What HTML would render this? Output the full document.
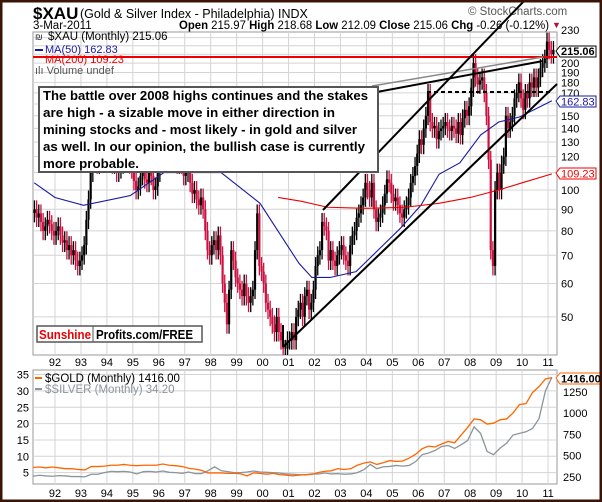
<!DOCTYPE html>
<html><head><meta charset="utf-8"><style>
body{margin:0;padding:0;background:#fff}
svg{display:block;font-family:"Liberation Sans",sans-serif}
</style></head><body>
<svg id="chart" width="602" height="502" viewBox="0 0 602 502">
<rect x="0" y="0" width="602" height="502" fill="#fff"/>
<g id="grid"></g>
<g>
<text x="33" y="19" font-size="17" font-weight="bold">$XAU</text>
<text x="80" y="18" font-size="12.5">(Gold &amp; Silver Index - Philadelphia) INDX</text>
<text x="33" y="29" font-size="11.5">3-Mar-2011</text>
<text x="179" y="29" font-size="11.5" textLength="370" lengthAdjust="spacingAndGlyphs"><tspan font-weight="bold">Open</tspan> 215.97 <tspan font-weight="bold">High</tspan> 218.68 <tspan font-weight="bold">Low</tspan> 212.09 <tspan font-weight="bold">Close</tspan> 215.06 <tspan font-weight="bold">Chg</tspan> -0.26 (-0.12%)</text>
<text x="552" y="28" font-size="9" fill="#b0103a">▼</text>
<text x="468" y="15" font-size="11.5" fill="#555">© StockCharts.com</text>
</g>
<g id="main"></g>
<g id="overlay"></g>
<g id="lower"></g>
<rect x="1" y="1" width="600" height="500" fill="none" stroke="#3a1406" stroke-width="3"/>
</svg>
<script>
// Monthly $XAU closes, Mar 1991 .. Mar 2011
const xauClose=[90,86,88,84,80,82,85,83,80,78,
80,82,78,75,76,72,74,70,72,68,66,68,
70,74,85,95,110,125,120,115,118,125,122,130,
125,120,115,118,110,112,115,120,118,125,115,112,
105,100,102,108,110,106,104,112,108,100,102,110,
125,140,135,130,128,122,120,118,115,120,115,108,
110,112,104,98,100,95,92,96,90,80,72,70,
74,76,72,78,70,60,54,48,58,72,68,62,
60,58,56,60,56,54,56,58,72,88,66,64,
60,54,52,50,48,46,50,46,44,42,42,44,
44,46,44,50,52,54,50,56,58,52,54,58,
66,70,72,84,82,80,68,72,68,66,70,72,
74,70,68,66,74,78,80,86,88,92,96,104,
100,96,104,90,84,86,88,92,98,106,104,98,
94,96,92,88,86,90,92,96,104,108,114,122,
132,128,140,150,170,145,140,142,132,138,140,142,
145,140,138,142,140,136,145,135,148,155,150,158,
175,200,185,178,182,185,170,150,118,72,66,100,
110,100,115,120,150,140,145,150,165,170,180,165,
155,170,165,180,175,185,175,185,195,200,205,225,
215,210,215.06];
const ma50Years=[1991.2,1992,1993.1,1994.9,1996.2,1998.4,1999.9,2001.4,2001.9,2002.6,2003.6,2005.3,2006.1,2006.8,2007.6,2008.4,2009.1,2009.9,2011.15];
const ma50Vals=[104,96,92,97,110,110,93,67,62,62,64,81,92,109,116,135,145,149,162.83];
const ma200Years=[2000.6,2001.5,2002.5,2004,2005.5,2006.8,2008,2009.1,2010,2011.15];
const ma200Vals=[96,94,91,90.5,91,93,96,100,104,109.23];
const yTicks=[50,60,70,80,90,100,120,130,140,150,170,180,190,200,230];
const yGrid=[50,60,70,80,90,100,110,120,130,140,150,160,170,180,190,200,210,220,230];
const yearLabels=["92","93","94","95","96","97","98","99","00","01","02","03","04","05","06","07","08","09","10","11"];
const goldVals=[360,365,355,365,355,345,345,335,330,370,370,375,385,385,395,385,380,385,385,385,400,385,380,370,350,340,325,295,295,295,290,290,285,260,295,290,280,290,275,270,260,270,275,278,300,315,320,345,335,345,385,410,425,395,415,440,430,435,470,515,580,610,600,635,665,650,740,830,930,920,870,880,920,930,1000,1100,1110,1240,1310,1400,1416];
const silverVals=[3.9,4.2,4.0,3.9,4.1,4.0,3.8,3.8,3.7,4.5,4.5,5.0,5.4,5.3,5.4,5.2,4.6,5.3,5.4,5.2,5.5,5.1,5.0,4.8,5.2,4.7,4.7,5.6,6.8,5.6,5.3,5.0,5.0,5.2,5.5,5.2,5.1,5.0,4.9,4.6,4.5,4.4,4.3,4.6,4.6,4.9,4.6,4.7,4.5,4.6,5.0,5.9,7.5,6.2,6.8,6.9,7.2,7.0,7.2,8.4,10.5,11.0,11.8,13.0,13.3,12.4,13.5,14.8,19.0,17.0,11.5,10.5,12.5,14.0,16.5,17.0,17.5,18.5,21.5,30.0,34.2];
const silverTicks=[5,10,15,20,25,30,35];
const goldTicks=[250,500,750,1000,1250];

const NS="http://www.w3.org/2000/svg";
function mk(tag,attrs,parent){const e=document.createElementNS(NS,tag);for(const k in attrs)e.setAttribute(k,attrs[k]);parent.appendChild(e);return e;}
const PL=33,PR=557,PT=32,PB=355,LT=370,LB=484;
const xOf=t=>55+(t-1992)*25.95;
const yOf=v=>190-183*Math.log(v/100);
const ySil=v=>489-3.27*v;
const yGold=v=>498-0.085*v;
const grid=document.getElementById('grid'),main=document.getElementById('main'),low=document.getElementById('lower');

let r=mk('rect',{x:PL,y:PT,width:PR-PL,height:PB-PT,fill:'none',stroke:'#999'},grid);

r=mk('rect',{x:PL,y:LT,width:PR-PL,height:LB-LT,fill:'none',stroke:'#999'},grid);

yearLabels.forEach((lab,i)=>{const x=xOf(1992+i);
 let l=mk('line',{x1:x,x2:x,y1:PT,y2:PB,stroke:'#d4d4d4'},grid);
 
 l=mk('line',{x1:x,x2:x,y1:LT,y2:LB,stroke:'#d4d4d4'},grid);
 
 let t=mk('text',{x:x,y:366,'font-size':11,'text-anchor':'middle'},grid);t.textContent=lab;
 
 t=mk('text',{x:x,y:497,'font-size':11,'text-anchor':'middle'},grid);t.textContent=lab;
 
});
yGrid.forEach(v=>{const y=yOf(v);let l=mk('line',{x1:PL,x2:PR,y1:y,y2:y,stroke:'#d4d4d4'},grid);
 });
yTicks.forEach(v=>{let t=mk('text',{x:561,y:(v===230?30:yOf(v))+4,'font-size':11},grid);t.textContent=v;
 });

const clip=mk('clipPath',{id:'pc'},main);mk('rect',{x:PL,y:PT,width:PR-PL,height:PB-PT},clip);
const cg=mk('g',{'clip-path':'url(#pc)'},main);
xauClose.forEach((c,i)=>{const o=i?xauClose[i-1]:c*0.98;const t=1991+(2+i)/12+1/24;const x=xOf(t);
 const hi=Math.max(o,c)*1.05,lo=Math.min(o,c)*0.95;const col=c>=o?'#000':'#cc1040';
 const b=mk('line',{x1:x,x2:x,y1:yOf(hi),y2:yOf(lo),stroke:col,'stroke-width':1.3},cg);
 
 const bd=mk('line',{x1:x,x2:x,y1:yOf(Math.max(o,c)),y2:yOf(Math.min(o,c)),stroke:col,'stroke-width':2.2},cg);
 });
let p=mk('polyline',{points:ma50Years.map((t,i)=>xOf(t)+','+yOf(ma50Vals[i])).join(' '),fill:'none',stroke:'#1a1aa0','stroke-width':1.1},cg);

p=mk('polyline',{points:ma200Years.map((t,i)=>xOf(t)+','+yOf(ma200Vals[i])).join(' '),fill:'none',stroke:'#e00','stroke-width':1.1},cg);


silverTicks.forEach(v=>{const y=ySil(v);let l=mk('line',{x1:PL,x2:PR,y1:y,y2:y,stroke:'#d4d4d4'},low);
 
 let t=mk('text',{x:29,y:y+4,'font-size':11,'text-anchor':'end'},low);t.textContent=v;
 });
goldTicks.forEach(v=>{let t=mk('text',{x:563,y:yGold(v)+4,'font-size':11},low);t.textContent=v;
 });
p=mk('polyline',{points:silverVals.map((v,i)=>xOf(1991.15+i*0.25)+','+ySil(v)).join(' '),fill:'none',stroke:'#8a959c','stroke-width':1.3},low);

p=mk('polyline',{points:goldVals.map((v,i)=>xOf(1991.15+i*0.25)+','+yGold(v)).join(' '),fill:'none',stroke:'#ff6600','stroke-width':1.3},low);

</script>
<script>
(function(){const ov=document.getElementById('overlay');const low=document.getElementById('lower');
ov.innerHTML=`
<line x1="33" y1="57" x2="557" y2="57" stroke="#e00" stroke-width="2"/>
<line x1="427" y1="92" x2="553" y2="92" stroke="#000" stroke-width="2" stroke-dasharray="4,3"/>
<line x1="372" y1="86" x2="543" y2="57" stroke="#888" stroke-width="1.5"/>
<line x1="377" y1="92" x2="543" y2="61" stroke="#000" stroke-width="2"/>
<line x1="283" y1="347" x2="557" y2="84" stroke="#000" stroke-width="2"/>
<line x1="283" y1="347" x2="283" y2="325" stroke="#000" stroke-width="2"/>
<line x1="323" y1="210" x2="525" y2="0" stroke="#000" stroke-width="2"/>
<rect x="39" y="87" width="339" height="85" fill="#fff" stroke="#555" stroke-width="2"/>
<g font-size="13" font-weight="bold">
<text x="43" y="100" textLength="325" lengthAdjust="spacingAndGlyphs">The battle over 2008 highs continues and the stakes</text>
<text x="43" y="117" textLength="292" lengthAdjust="spacingAndGlyphs">are high - a sizable move in either direction in</text>
<text x="43" y="134" textLength="314" lengthAdjust="spacingAndGlyphs">mining stocks and - most likely - in gold and silver</text>
<text x="43" y="151" textLength="322" lengthAdjust="spacingAndGlyphs">as well. In our opinion, the bullish case is currently</text>
<text x="43" y="168" textLength="96" lengthAdjust="spacingAndGlyphs">more probable.</text>
</g>
<g>
<text x="35" y="40" font-size="9" fill="#333">₪</text>
<text x="48" y="40" font-size="11.5">$XAU (Monthly) 215.06</text>
<rect x="35" y="49" width="8" height="2" fill="#1a1aa0"/>
<text x="45" y="53" font-size="11" fill="#1a1aa0">MA(50) 162.83</text>
<text x="45" y="63" font-size="11" fill="#e00">MA(200) 109.23</text>
<text x="35" y="74" font-size="11" fill="#555">ılı Volume undef</text>
</g>
<g><path d="M556 51 L560 46 H596 V57 H560 Z" fill="#fff" stroke="#000"/><text x="561" y="55" font-size="11" font-weight="bold">215.06</text></g>
<g><path d="M556 101 L560 96 H596 V107 H560 Z" fill="#fff" stroke="#1a1aa0"/><text x="561" y="105.5" font-size="11" fill="#1a1aa0">162.83</text></g>
<g><path d="M556 173 L560 168 H596 V179 H560 Z" fill="#fff" stroke="#e00"/><text x="561" y="177.5" font-size="11" fill="#e00">109.23</text></g>
<g><rect x="37" y="326" width="165" height="16" fill="#fff" stroke="#555" stroke-width="1.5"/><line x1="93" y1="326" x2="93" y2="342" stroke="#555"/><text x="39" y="339" font-size="12.5" font-weight="bold" fill="#e00" textLength="52" lengthAdjust="spacingAndGlyphs">Sunshine</text><text x="96" y="339" font-size="12.5" font-weight="bold" textLength="97" lengthAdjust="spacingAndGlyphs">Profits.com/FREE</text></g>`;
low.insertAdjacentHTML('beforeend',`
<g>
<rect x="35" y="377" width="7" height="2" fill="#ff6600"/><text x="45" y="382" font-size="11.5">$GOLD (Monthly) 1416.00</text>
<rect x="35" y="388" width="7" height="2" fill="#8a959c"/><text x="45" y="393" font-size="11.5" fill="#8a959c">$SILVER (Monthly) 34.20</text>
</g>
<g><path d="M556 378 L560 373 H600 V384 H560 Z" fill="#fff" stroke="#ff6600"/><text x="561" y="382.5" font-size="11" font-weight="bold">1416.00</text></g>`);
})();
</script>
</body></html>
